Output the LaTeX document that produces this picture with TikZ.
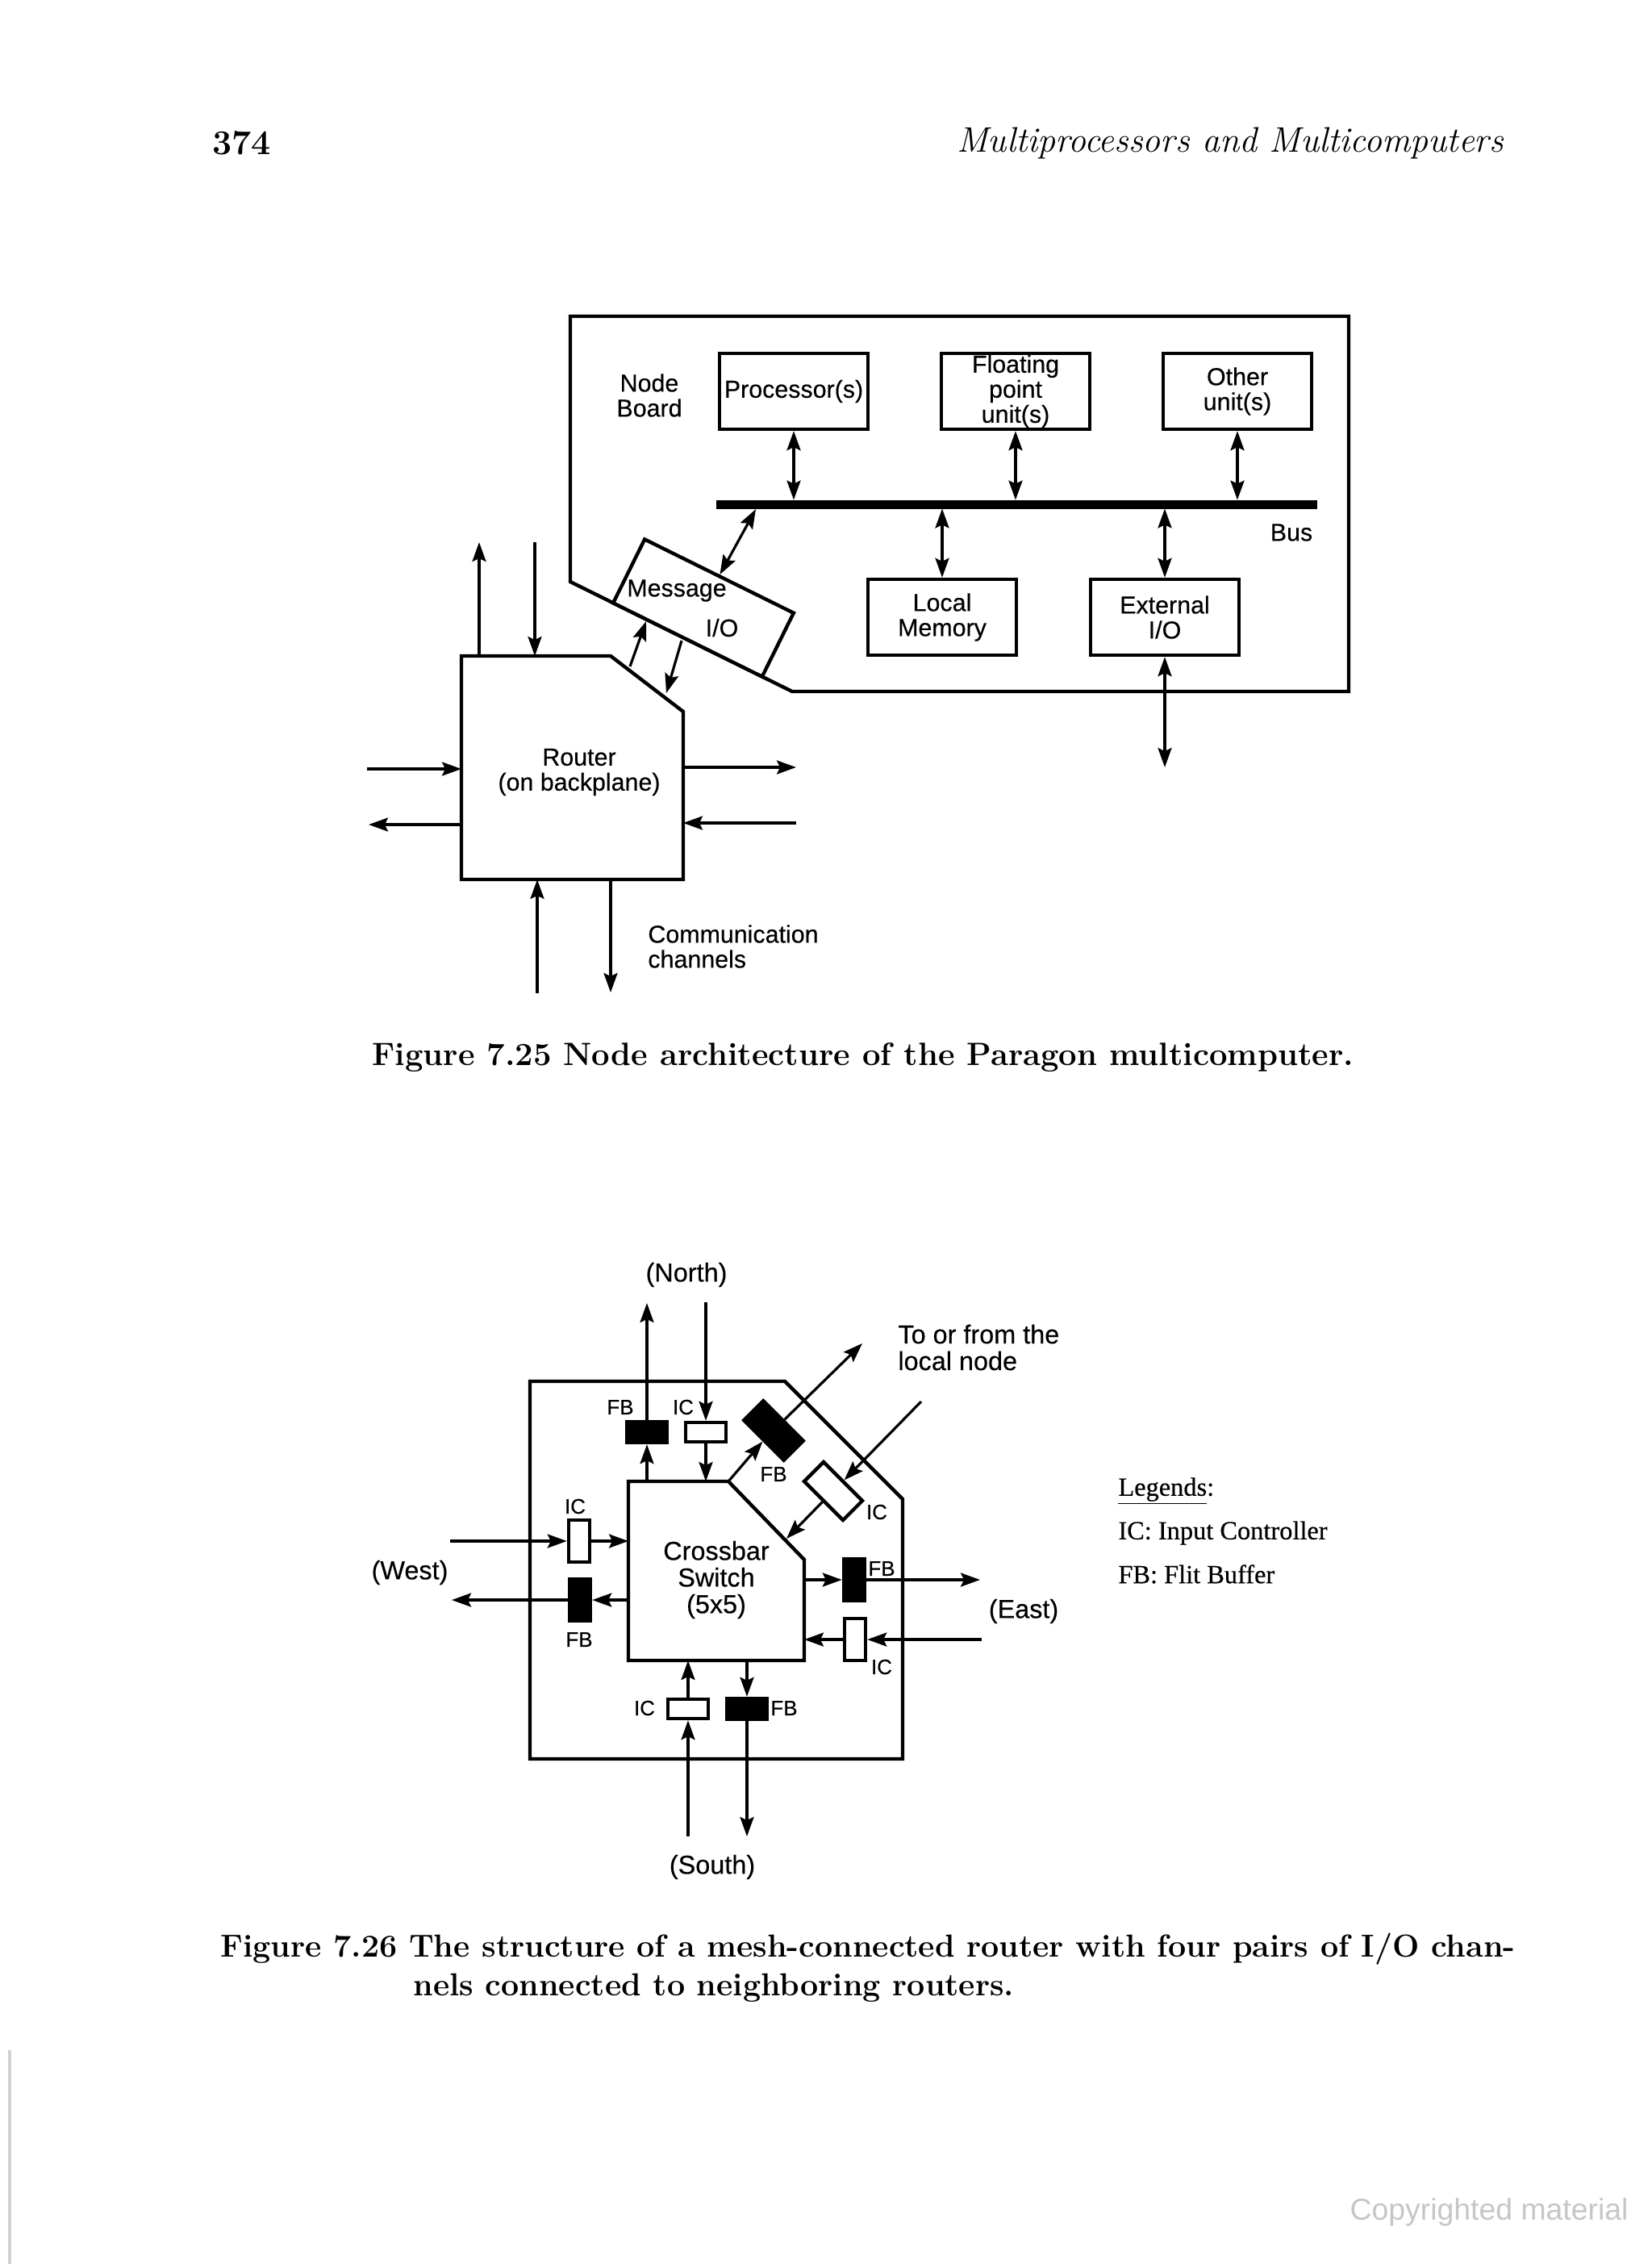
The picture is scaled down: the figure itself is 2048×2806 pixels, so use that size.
\documentclass[tikz,border=0pt]{standalone}
\usepackage{fontspec}
\newfontfamily\figsans[FakeBold=0.35]{Liberation Sans}
\newfontfamily\figserif[FakeBold=0.5]{Liberation Serif}
\newfontfamily\wmsans{Liberation Sans}
\usetikzlibrary{arrows.meta}
\newcommand{\figtext}{\figsans\fontsize{15.2}{15.5}\selectfont}
\newcommand{\routertext}{\figsans\fontsize{16.2}{16.5}\selectfont}
\newcommand{\tagtext}{\figsans\fontsize{13}{14}\selectfont}
\tikzset{
  thick line/.style={line width=2.2pt},
  thin line/.style={line width=1.6pt},
  unit/.style={draw, thick line, minimum width=92pt, minimum height=47pt, inner sep=0pt, align=center, font=\figtext},
  txt/.style={inner sep=0pt, align=center, font=\figtext},
  rtxt/.style={inner sep=0pt, align=center, font=\routertext},
  tag/.style={inner sep=0pt, font=\tagtext},
  ic/.style={draw, thick line, fill=white, minimum width=25pt, minimum height=12pt, inner sep=0pt},
  fb/.style={draw, thick line, fill=black, minimum width=25pt, minimum height=13pt, inner sep=0pt},
  tall/.style={minimum width=13pt, minimum height=26pt},
  legend/.style={inner sep=0pt, anchor=west, font=\figserif\fontsize{16.2}{18}\selectfont},
  caption/.style={inner sep=0pt, anchor=west, font=\bfseries\fontsize{19.7}{22}\selectfont}
}
\begin{document}
\begin{tikzpicture}[x=0.5pt, y=-0.5pt, >={Stealth[length=12pt,width=8.5pt,inset=2pt]}]
  \useasboundingbox (0,0) rectangle (2048,2806);

  \node[inner sep=0pt, anchor=west, font=\bfseries\fontsize{21.5}{24}\selectfont] (page) at (263,177) {374};
  \node[inner sep=0pt, anchor=east, font=\itshape\fontsize{22}{24}\selectfont] (title) at (1864,177) {Multiprocessors and Multicomputers};

  \path
    coordinate (boardNW) at (707,392)
    coordinate (boardNE) at (1672,392)
    coordinate (boardSE) at (1672,857)
    coordinate (boardS)  at (982,857)
    coordinate (boardW)  at (707,721)
  ;
  \draw[thick line] (boardNW) -- (boardNE) -- (boardSE) -- (boardS) -- (boardW) -- cycle;

  \node[unit] (proc)  at (984,485)  {Processor(s)};
  \node[unit] (float) at (1259,485) {Floating\\point\\unit(s)};
  \node[unit] (other) at (1534,485) {Other\\unit(s)};
  \node[unit] (local) at (1168,765) {Local\\Memory};
  \node[unit] (extio) at (1444,765) {External\\I/O};
  \node[draw, fill=black, minimum width=372pt, minimum height=5pt, inner sep=0pt] (bus) at (1260,625) {};
  \node[draw, thick line, fill=white, rotate=-26.3, minimum width=103pt, minimum height=44pt, inner sep=0pt] (msg) at (872,753.5) {};

  \node[txt] (nodeboard) at (805,490)  {Node\\Board};
  \node[txt] (buslabel)  at (1601,660) {Bus};
  \node[txt] (msgtext)   at (839,732)  {Message};
  \node[txt] (msgio)     at (895,778)  {I/O};

  \draw[<->, thin line] (proc.south)  -- (proc.south |- bus.north);
  \draw[<->, thin line] (float.south) -- (float.south |- bus.north);
  \draw[<->, thin line] (other.south) -- (other.south |- bus.north);
  \draw[<->, thin line] (local.north) -- (local.north |- bus.south);
  \draw[<->, thin line] (extio.north) -- (extio.north |- bus.south);
  \coordinate (busMsg) at (937,631);
  \draw[<->, thin line] (msg.north) -- (busMsg);
  \coordinate (extEnd) at (1444,951);
  \draw[<->, thin line] (extio.south) -- (extEnd);

  \path
    coordinate (routerNW) at (572,813)
    coordinate (routerN)  at (757,813)
    coordinate (routerE)  at (847,882)
    coordinate (routerSE) at (847,1090)
    coordinate (routerSW) at (572,1090)
  ;
  \draw[thick line] (routerNW) -- (routerN) -- (routerE) -- (routerSE) -- (routerSW) -- cycle;
  \node[txt] (router) at (718,957) {Router\\(on backplane)};

  \path
    coordinate (msgA) at (801,770)
    coordinate (rtA)  at (781,826)
    coordinate (msgB) at (845,794)
    coordinate (rtB)  at (826,859)
    coordinate (chUpA) at (594,813)
    coordinate (chUpB) at (594,672)
    coordinate (chDnA) at (663,672)
    coordinate (chDnB) at (663,813)
    coordinate (chLiA) at (455,953)
    coordinate (chLiB) at (572,953)
    coordinate (chLoA) at (572,1022)
    coordinate (chLoB) at (457,1022)
    coordinate (chRoA) at (847,951)
    coordinate (chRoB) at (987,951)
    coordinate (chRiA) at (987,1020)
    coordinate (chRiB) at (847,1020)
    coordinate (chBuA) at (666,1231)
    coordinate (chBuB) at (666,1090)
    coordinate (chBdA) at (757,1090)
    coordinate (chBdB) at (757,1230)
  ;
  \draw[->, thin line] (rtA) -- (msgA);
  \draw[->, thin line] (msgB) -- (rtB);
  \draw[->, thin line] (chUpA) -- (chUpB);
  \draw[->, thin line] (chDnA) -- (chDnB);
  \draw[->, thin line] (chLiA) -- (chLiB);
  \draw[->, thin line] (chLoA) -- (chLoB);
  \draw[->, thin line] (chRoA) -- (chRoB);
  \draw[->, thin line] (chRiA) -- (chRiB);
  \draw[->, thin line] (chBuA) -- (chBuB);
  \draw[->, thin line] (chBdA) -- (chBdB);
  \node[txt, align=left, anchor=west] (comm) at (803,1173) {Communication\\channels};

  \node[caption, font=\bfseries\fontsize{20}{22}\selectfont] (capA) at (461,1311) {Figure 7.25 Node architecture of the Paragon multicomputer.};

  \path
    coordinate (outerNW) at (657,1712)
    coordinate (outerN)  at (973,1712)
    coordinate (outerE)  at (1119,1858)
    coordinate (outerSE) at (1119,2180)
    coordinate (outerSW) at (657,2180)
    coordinate (xbarNW)  at (779,1836)
    coordinate (xbarN)   at (903,1836)
    coordinate (xbarE)   at (997,1933)
    coordinate (xbarSE)  at (997,2058)
    coordinate (xbarSW)  at (779,2058)
    coordinate (xbarD)   at (975,1907)
  ;
  \draw[thick line] (outerNW) -- (outerN) -- (outerE) -- (outerSE) -- (outerSW) -- cycle;
  \draw[thick line] (xbarNW) -- (xbarN) -- (xbarE) -- (xbarSE) -- (xbarSW) -- cycle;
  \node[rtxt] (xbar) at (888,1958) {Crossbar\\Switch\\(5x5)};

  \node[fb] (fbN) at (802,1775) {};
  \node[ic] (icN) at (875,1775) {};
  \node[fb, rotate=-45, minimum width=35pt, minimum height=17pt] (fbD) at (959,1773) {};
  \node[ic, rotate=-45, minimum width=34pt, minimum height=17pt] (icD) at (1033,1848) {};
  \node[ic, tall] (icW) at (718,1910) {};
  \node[fb, tall] (fbW) at (719,1983) {};
  \node[fb, tall] (fbE) at (1059,1958) {};
  \node[ic, tall] (icE) at (1060,2032) {};
  \node[ic] (icS) at (853,2118) {};
  \node[fb] (fbS) at (926,2118) {};

  \path
    coordinate (northOut) at (802,1615)
    coordinate (northIn)  at (875,1614)
    coordinate (localOut) at (1069,1665)
    coordinate (localIn)  at (1142,1737)
    coordinate (westIn)   at (558,1910)
    coordinate (westOut)  at (560,1983)
    coordinate (eastOut)  at (1215,1958)
    coordinate (eastIn)   at (1217,2032)
    coordinate (southIn)  at (853,2276)
    coordinate (southOut) at (926,2276)
  ;
  \draw[->, thin line] (fbN.south |- xbarNW) -- (fbN.south);
  \draw[->, thin line] (fbN.north) -- (northOut);
  \draw[->, thin line] (northIn) -- (icN.north);
  \draw[->, thin line] (icN.south) -- (icN.south |- xbarNW);
  \draw[->, thin line] (xbarN) -- (fbD.south);
  \draw[->, thin line] (fbD.north) -- (localOut);
  \draw[->, thin line] (localIn) -- (icD.north);
  \draw[->, thin line] (icD.south) -- (xbarD);
  \draw[->, thin line] (westIn) -- (icW.west);
  \draw[->, thin line] (icW.east) -- (icW.east -| xbarNW);
  \draw[->, thin line] (fbW.east -| xbarNW) -- (fbW.east);
  \draw[->, thin line] (fbW.west) -- (westOut);
  \draw[->, thin line] (fbE.west -| xbarE) -- (fbE.west);
  \draw[->, thin line] (fbE.east) -- (eastOut);
  \draw[->, thin line] (eastIn) -- (icE.east);
  \draw[->, thin line] (icE.west) -- (icE.west -| xbarE);
  \draw[->, thin line] (southIn) -- (icS.south);
  \draw[->, thin line] (icS.north) -- (icS.north |- xbarSW);
  \draw[->, thin line] (fbS.north |- xbarSW) -- (fbS.north);
  \draw[->, thin line] (fbS.south) -- (southOut);

  \node[tag] (lblFbN) at (769,1744) {FB};
  \node[tag] (lblIcN) at (847,1744) {IC};
  \node[tag] (lblFbD) at (959,1827) {FB};
  \node[tag] (lblIcD) at (1087,1874) {IC};
  \node[tag] (lblIcW) at (713,1867) {IC};
  \node[tag] (lblFbW) at (718,2032) {FB};
  \node[tag] (lblFbE) at (1093,1944) {FB};
  \node[tag] (lblIcE) at (1093,2066) {IC};
  \node[tag] (lblIcS) at (799,2117) {IC};
  \node[tag] (lblFbS) at (972,2117) {FB};
  \node[rtxt] (north) at (851,1580) {(North)};
  \node[rtxt] (south) at (883,2314) {(South)};
  \node[rtxt] (west)  at (508,1949) {(West)};
  \node[rtxt] (east)  at (1269,1997) {(East)};
  \node[rtxt, align=left, anchor=west] (tofrom) at (1113,1670) {To or from the\\local node};

  \node[legend] (legA) at (1386,1848) {\underline{Legends}:};
  \node[legend] (legB) at (1386,1900) {IC: Input Controller};
  \node[legend] (legC) at (1386,1951) {FB: Flit Buffer};

  \node[caption] (capB) at (273,2416) {Figure 7.26 The structure of a mesh-connected router with four pairs of I/O chan-};
  \node[caption] (capC) at (512,2464) {nels connected to neighboring routers.};

  \node[inner sep=0pt, anchor=east, text=gray!45, font=\wmsans\fontsize{18.7}{22}\selectfont] (copy) at (2019,2742) {Copyrighted material};
  \draw[gray!35, thin line] (12,2541) -- (12,2806);
\end{tikzpicture}
\end{document}
